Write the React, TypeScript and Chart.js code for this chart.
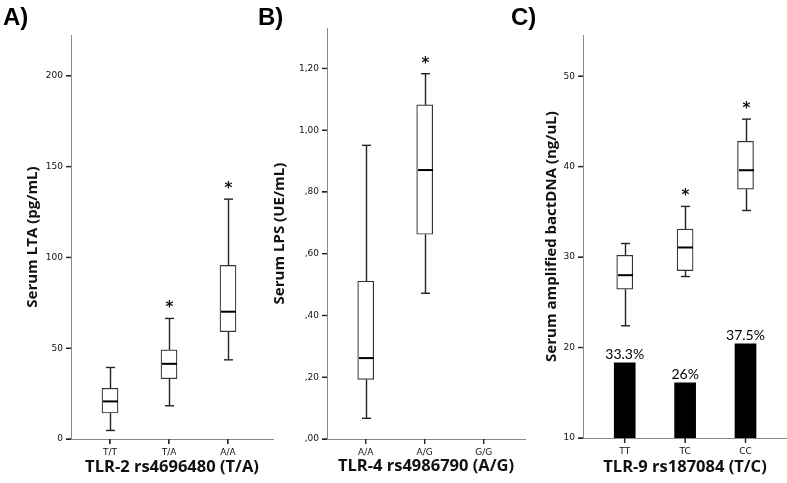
import React, { useEffect, useRef } from 'react';
import { Chart, registerables } from 'chart.js';

Chart.register(...registerables);

// ---------- Panel A: TLR-2 ----------
const A_CATEGORIES = ['T/T', 'T/A', 'A/A'];
const A_MIN = [4.7, 18.3, 43.6];
const A_Q1 = [14.3, 33.2, 59.1];
const A_MEDIAN = [20.7, 41.4, 70.1];
const A_Q3 = [27.9, 49.1, 95.6];
const A_MAX = [39.4, 66.4, 132.1];
const A_SIG = [false, true, true];
const A_Y_TICKS = [0, 50, 100, 150, 200];
const A_Y_LABELS = ['0', '50', '100', '150', '200'];

// ---------- Panel B: TLR-4 ----------
const B_CATEGORIES = ['A/A', 'A/G', 'G/G'];
const B_MIN = [0.067, 0.472, null];
const B_Q1 = [0.193, 0.663, null];
const B_MEDIAN = [0.262, 0.871, null];
const B_Q3 = [0.511, 1.082, null];
const B_MAX = [0.951, 1.183, null];
const B_SIG = [false, true, false];
const B_Y_TICKS = [0, 0.2, 0.4, 0.6, 0.8, 1.0, 1.2];
const B_Y_LABELS = [',00', ',20', ',40', ',60', ',80', '1,00', '1,20'];

// ---------- Panel C: TLR-9 ----------
const C_CATEGORIES = ['TT', 'TC', 'CC'];
const C_MIN = [22.4, 27.85, 35.15];
const C_Q1 = [26.45, 28.5, 37.5];
const C_MEDIAN = [28.0, 31.06, 39.6];
const C_Q3 = [30.2, 33.1, 42.8];
const C_MAX = [31.5, 35.6, 45.25];
const C_SIG = [false, true, true];
const C_BARS = [18.3, 16.1, 20.4];
const C_BAR_LABELS = ['33.3%', '26%', '37.5%'];
const C_Y_TICKS = [10, 20, 30, 40, 50];
const C_Y_LABELS = ['10', '20', '30', '40', '50'];

type Num = number | null;
interface Panel {
  cats: string[];
  min: Num[]; q1: Num[]; med: Num[]; q3: Num[]; max: Num[];
  sig: boolean[];
  yTicks: number[]; yLabels: string[];
  yMin: number; yMax: number; xMin: number; xMax: number;
  yTitle: string; xTitle: string;
  bars?: number[]; barLabels?: string[];
  box: { left: number; width: number; yW: number; xH: number; top: number; right: number; yTitlePad: number; xTitlePad: number };
}

const PANELS: Panel[] = [
  {
    cats: A_CATEGORIES, min: A_MIN, q1: A_Q1, med: A_MEDIAN, q3: A_Q3, max: A_MAX, sig: A_SIG,
    yTicks: A_Y_TICKS, yLabels: A_Y_LABELS, yMin: 0, yMax: 222.5, xMin: 0.339, xMax: 3.763,
    yTitle: 'Serum LTA (pg/mL)', xTitle: 'TLR-2 rs4696480 (T/A)',
    box: { left: 0, width: 275, yW: 71, xH: 44, top: 35, right: 2, yTitlePad: 24, xTitlePad: 6 },
  },
  {
    cats: B_CATEGORIES, min: B_MIN, q1: B_Q1, med: B_MEDIAN, q3: B_Q3, max: B_MAX, sig: B_SIG,
    yTicks: B_Y_TICKS, yLabels: B_Y_LABELS, yMin: 0, yMax: 1.331, xMin: 0.344, xMax: 3.70,
    yTitle: 'Serum LPS (UE/mL)', xTitle: 'TLR-4 rs4986790 (A/G)',
    box: { left: 262, width: 266, yW: 65, xH: 44, top: 28, right: 3, yTitlePad: 9, xTitlePad: 7 },
  },
  {
    cats: C_CATEGORIES, min: C_MIN, q1: C_Q1, med: C_MEDIAN, q3: C_Q3, max: C_MAX, sig: C_SIG,
    yTicks: C_Y_TICKS, yLabels: C_Y_LABELS, yMin: 10, yMax: 54.55, xMin: 0.309, xMax: 3.687,
    yTitle: 'Serum amplified bactDNA (ng/uL)', xTitle: 'TLR-9 rs187084 (T/C)',
    bars: C_BARS, barLabels: C_BAR_LABELS,
    box: { left: 525, width: 262, yW: 58, xH: 45, top: 35, right: 0, yTitlePad: 17.7, xTitlePad: 6 },
  },
];

const TICK_LEN = 5;

function makeBoxPlugin(p: Panel) {
  return {
    id: 'boxWhiskers',
    afterDraw(chart: any) {
      // axis tick marks
      const { ctx, chartArea } = chart;
      const x = chart.scales.x;
      const y = chart.scales.y;
      ctx.save();
      ctx.strokeStyle = '#222';
      ctx.lineWidth = 1.4;
      const bottom = chartArea.bottom;
      const left = chartArea.left;
      x.ticks.forEach((t: any) => {
        const px = x.getPixelForValue(t.value);
        ctx.beginPath();
        ctx.moveTo(px, bottom);
        ctx.lineTo(px, bottom + TICK_LEN);
        ctx.stroke();
      });
      y.ticks.forEach((t: any) => {
        const py = y.getPixelForValue(t.value);
        ctx.beginPath();
        ctx.moveTo(left - TICK_LEN, py);
        ctx.lineTo(left, py);
        ctx.stroke();
      });
      ctx.restore();
    },
    afterDatasetsDraw(chart: any) {
      const { ctx } = chart;
      const x = chart.scales.x;
      const y = chart.scales.y;
      ctx.save();
      const line = (x1: number, y1: number, x2: number, y2: number) => {
        ctx.beginPath();
        ctx.moveTo(x1, y1);
        ctx.lineTo(x2, y2);
        ctx.stroke();
      };
      p.cats.forEach((_, i) => {
        if (p.q1[i] == null) return;
        const cx = Math.round(x.getPixelForValue(i + 1)) + 0.5;
        const pMin = y.getPixelForValue(p.min[i] as number);
        const pQ1 = y.getPixelForValue(p.q1[i] as number);
        const pMed = y.getPixelForValue(p.med[i] as number);
        const pQ3 = y.getPixelForValue(p.q3[i] as number);
        const pMax = y.getPixelForValue(p.max[i] as number);
        ctx.strokeStyle = '#222';
        ctx.lineWidth = 1.4;
        line(cx, pQ3, cx, pMax);
        line(cx, pQ1, cx, pMin);
        line(cx - 4.5, pMax, cx + 4.5, pMax);
        line(cx - 4.5, pMin, cx + 4.5, pMin);
        ctx.strokeStyle = '#000';
        ctx.lineWidth = 2;
        line(cx - 7.5, pMed, cx + 7.5, pMed);
        if (p.sig[i]) {
          ctx.fillStyle = '#111';
          ctx.font = 'bold 15px "DejaVu Sans"';
          ctx.textAlign = 'center';
          ctx.textBaseline = 'alphabetic';
          ctx.fillText('*', cx, pMax - 6);
        }
      });
      if (p.bars && p.barLabels) {
        ctx.fillStyle = '#000';
        ctx.font = '14px Lato';
        ctx.textAlign = 'center';
        ctx.textBaseline = 'alphabetic';
        p.bars.forEach((v, i) => {
          const cx = x.getPixelForValue(i + 1);
          ctx.fillText(p.barLabels![i], cx, y.getPixelForValue(v) - 4);
        });
      }
      ctx.restore();
    },
  };
}

function PanelChart({ p }: { p: Panel }) {
  const ref = useRef<HTMLCanvasElement | null>(null);
  useEffect(() => {
    if (!ref.current) return;
    const datasets: any[] = [];
    if (p.bars) {
      datasets.push({
        data: p.bars.map((v, i) => ({ x: i + 1, y: [p.yMin, v] })),
        backgroundColor: '#000',
        borderWidth: 0,
        barThickness: 21,
        grouped: false,
      });
    }
    datasets.push({
      data: p.cats
        .map((_, i) => (p.q1[i] == null ? null : { x: i + 1, y: [p.q1[i], p.q3[i]] }))
        .filter((d) => d !== null),
      backgroundColor: '#fff',
      borderColor: '#333',
      borderWidth: 1.2,
      borderSkipped: false,
      barThickness: 16,
      grouped: false,
    });
    const tickFont = { family: '"DejaVu Sans"', size: 9 };
    const chart = new Chart(ref.current, {
      type: 'bar',
      data: { datasets },
      options: {
        animation: false,
        responsive: false,
        devicePixelRatio: 1,
        layout: { padding: { top: p.box.top, right: p.box.right, left: 0, bottom: 0 } },
        plugins: { legend: { display: false }, tooltip: { enabled: false }, title: { display: false } },
        scales: {
          x: {
            type: 'linear',
            position: 'bottom',
            offset: false,
            min: p.xMin,
            max: p.xMax,
            afterBuildTicks: (s: any) => { s.ticks = p.cats.map((_, i) => ({ value: i + 1 })); },
            afterFit: (s: any) => { s.height = p.box.xH; },
            ticks: {
              autoSkip: false, maxRotation: 0, padding: 3, color: '#111', font: tickFont,
              callback: (_v: any, i: number) => p.cats[i],
            },
            grid: { offset: false, drawOnChartArea: false, drawTicks: true, tickLength: TICK_LEN, color: '#333', tickColor: '#333', lineWidth: 1 },
            border: { display: true, color: '#8a8a8a', width: 1 },
            title: {
              display: true, text: p.xTitle, color: '#111',
              font: { family: '"Open Sans"', weight: 'bold', size: 16.5 },
              padding: { top: 0, bottom: p.box.xTitlePad },
            },
          },
          y: {
            type: 'linear',
            position: 'left',
            min: p.yMin,
            max: p.yMax,
            afterBuildTicks: (s: any) => { s.ticks = p.yTicks.map((v) => ({ value: v })); },
            afterFit: (s: any) => { s.width = p.box.yW; },
            ticks: {
              padding: 3, color: '#111', font: tickFont,
              callback: (_v: any, i: number) => p.yLabels[i],
            },
            grid: { drawOnChartArea: false, drawTicks: true, tickLength: TICK_LEN, color: '#333', tickColor: '#333', lineWidth: 1 },
            border: { display: true, color: '#8a8a8a', width: 1 },
            title: {
              display: true, text: p.yTitle, color: '#111',
              font: { family: '"Open Sans"', weight: 'bold', size: 15 },
              padding: { top: p.box.yTitlePad, bottom: 0 },
            },
          },
        },
      } as any,
      plugins: [makeBoxPlugin(p)],
    });
    return () => chart.destroy();
  }, [p]);
  return (
    <canvas
      ref={ref}
      width={p.box.width}
      height={483}
      style={{ position: 'absolute', left: p.box.left, top: 0, width: p.box.width, height: 483 }}
    />
  );
}

const LABELS = [
  { text: 'A)', left: 3 },
  { text: 'B)', left: 258 },
  { text: 'C)', left: 511 },
];

export default function App() {
  return (
    <div style={{ position: 'absolute', left: 0, top: 0, width: 787, height: 483, background: '#fff', overflow: 'hidden' }}>
      {PANELS.map((p, i) => (
        <PanelChart key={i} p={p} />
      ))}
      {LABELS.map((l) => (
        <div
          key={l.text}
          style={{
            position: 'absolute', left: l.left, top: 3, fontFamily: '"Liberation Sans", Arial, sans-serif',
            fontWeight: 'bold', fontSize: 24, lineHeight: '28px', color: '#000',
          }}
        >
          {l.text}
        </div>
      ))}
    </div>
  );
}
